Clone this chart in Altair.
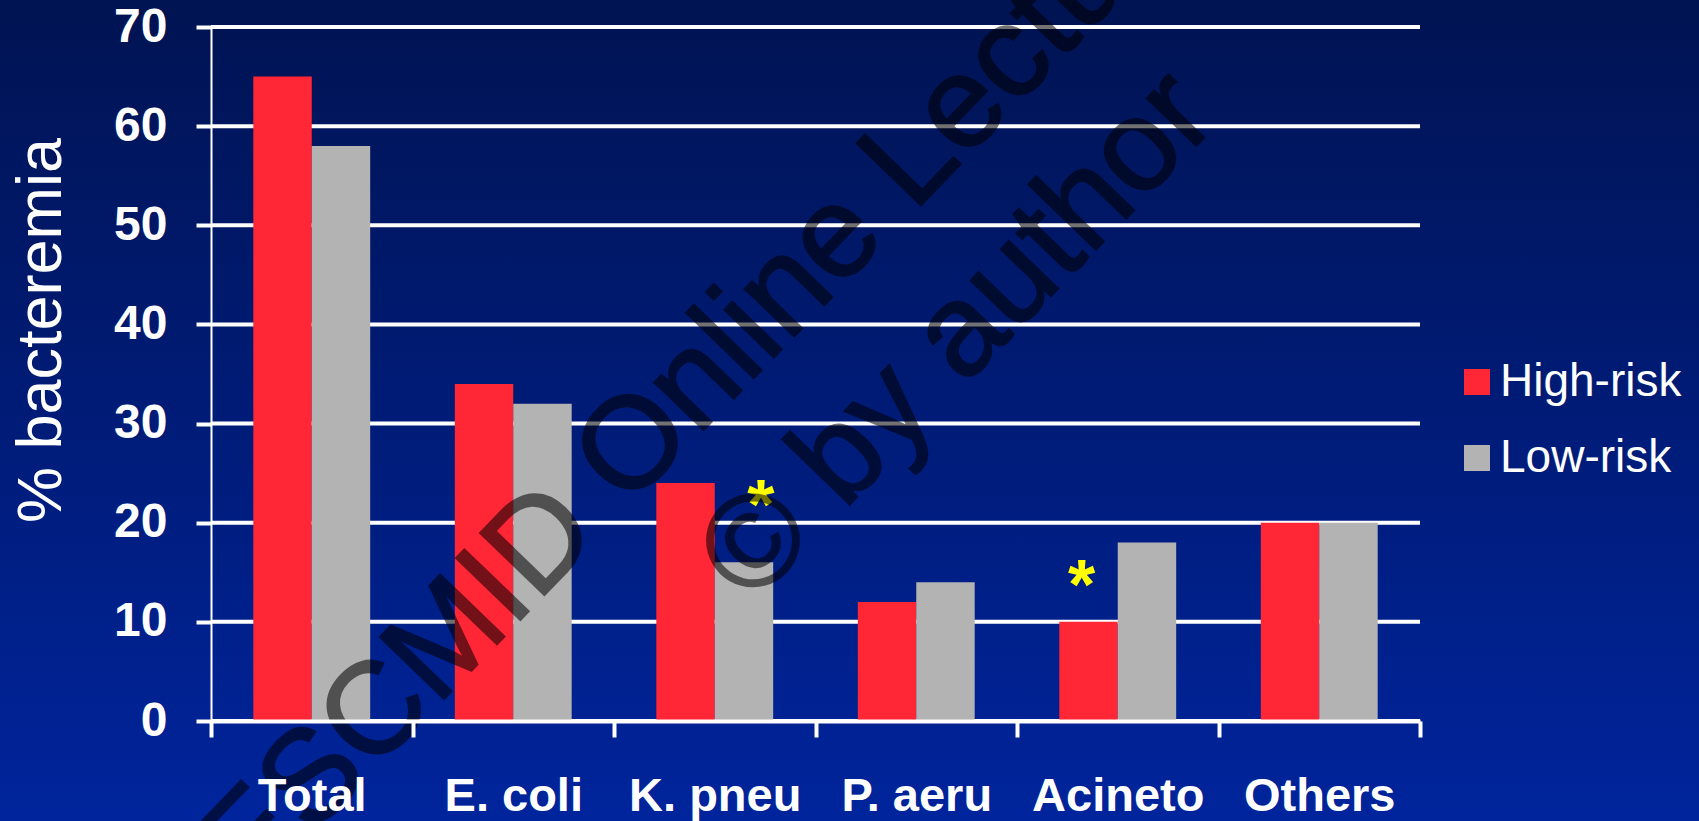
import altair as alt
import pandas as pd

# Bacteremia by organism, high-risk vs low-risk patients
categories = ["Total", "E. coli", "K. pneu", "P. aeru", "Acineto", "Others"]
series = ["High-risk", "Low-risk"]
high_risk = [65, 34, 24, 12, 10, 20]
low_risk = [58, 32, 16, 14, 18, 20]
series_colors = ["#ff2636", "#b3b3b3"]

# significance markers: organism, bar they sit over, height (%)
star_categories = ["K. pneu", "Acineto"]
star_series = ["Low-risk", "High-risk"]
star_heights = [23.3, 15.2]

y_ticks = [0, 10, 20, 30, 40, 50, 60, 70]
watermark_lines = ["ESCMID Online Lecture Library", "\u00a9 by author"]

W, H = 1209, 694
PAD = {"left": 211, "top": 27, "right": 279, "bottom": 100}
FONT = "Liberation Sans"

rows = []
for c, hv, lv in zip(categories, high_risk, low_risk):
    rows.append({"category": c, "series": series[0], "value": hv})
    rows.append({"category": c, "series": series[1], "value": lv})
bars_df = pd.DataFrame(rows)

# categories fill the whole width so ticks fall on band boundaries;
# the gap between groups comes from the offset scale's outer padding
x_scale = alt.Scale(domain=categories, paddingInner=0, paddingOuter=0)
xo_scale = alt.Scale(domain=series, paddingInner=0, paddingOuter=0.724)

x_enc = alt.X(
    "category:N",
    sort=categories,
    scale=x_scale,
    axis=alt.Axis(
        title=None, labelAngle=0, labelFont=FONT, labelFontSize=47,
        labelFontWeight="bold", labelColor="white", labelPadding=36,
        domainColor="white", domainWidth=4, tickColor="white", tickWidth=4,
        tickSize=16, tickBand="extent", grid=False, zindex=1,
    ),
)
xo_enc = alt.XOffset("series:N", scale=xo_scale)
y_enc = alt.Y(
    "value:Q",
    scale=alt.Scale(domain=[0, 70], nice=False),
    axis=alt.Axis(
        values=y_ticks, title="% bacteremia", grid=False, zindex=1,
        labelFont=FONT, labelFontSize=48, labelFontWeight="bold",
        labelColor="white", labelPadding=29,
        domainColor="white", domainWidth=2,
        tickColor="white", tickWidth=4, tickSize=15,
        titleFont=FONT, titleFontSize=63, titleFontWeight="normal",
        titleColor="white", titleX=-170, titleY=303, titleAngle=270,
        titleBaseline="middle", titleAlign="center",
    ),
)

# slide background
background = alt.Chart(alt.Data(values=[{}])).mark_rect(
    fill=alt.Gradient(
        gradient="linear",
        stops=[
            alt.GradientStop(color="#001352", offset=0),
            alt.GradientStop(color="#00249c", offset=1),
        ],
        x1=0, x2=0, y1=0, y2=1,
    )
).encode(
    x=alt.value(-PAD["left"]), x2=alt.value(W + PAD["right"]),
    y=alt.value(-PAD["top"]), y2=alt.value(H + PAD["bottom"]),
)

grid = alt.Chart(pd.DataFrame({"tick": y_ticks})).mark_rule(
    color="white", strokeWidth=4
).encode(
    y=alt.Y("tick:Q", scale=alt.Scale(domain=[0, 70], nice=False)),
    x=alt.value(0), x2=alt.value(W),
)

bars = alt.Chart(bars_df).mark_bar(strokeWidth=0).encode(
    x=x_enc,
    xOffset=xo_enc,
    y=y_enc,
    color=alt.Color(
        "series:N",
        scale=alt.Scale(domain=series, range=series_colors),
        legend=alt.Legend(
            title=None, orient="none", legendX=1243, legendY=332,
            labelFont=FONT, labelFontSize=46, labelColor="white",
            labelLimit=0,
            symbolType="square", symbolSize=676, symbolStrokeWidth=0,
            symbolOpacity=1, labelOffset=0, rowPadding=30, padding=0,
        ),
    ),
)

stars = []
for cat, ser, h, shift in zip(star_categories, star_series, star_heights, [17, -7]):
    stars.append(
        alt.Chart(pd.DataFrame({"category": [cat], "series": [ser], "value": [h]}))
        .mark_text(text="*", font=FONT, fontSize=70, fontWeight="bold",
                   color="#ffff00", baseline="middle", align="center",
                   dx=shift, dy=18)
        .encode(x=alt.X("category:N", sort=categories, scale=x_scale),
                xOffset=alt.XOffset("series:N", scale=xo_scale),
                y=alt.Y("value:Q"))
    )

marks_wm = []
for line, (px, py) in zip(watermark_lines, [(40, 872), (541, 579)]):
    marks_wm.append(
        alt.Chart(alt.Data(values=[{}])).mark_text(
            text=line, font=FONT, fontSize=130, angle=314, align="left",
            baseline="alphabetic", color="black", stroke="black",
            strokeWidth=2, opacity=0.55,
        ).encode(x=alt.value(px), y=alt.value(py))
    )

chart = alt.layer(background, grid, bars, *stars, *marks_wm).properties(
    width=W, height=H,
    autosize=alt.AutoSizeParams(type="none"),
    padding=PAD,
).configure(background="#001a75").configure_view(strokeWidth=0)

chart.save("out.html", embed_options={"renderer": "svg", "actions": False})
